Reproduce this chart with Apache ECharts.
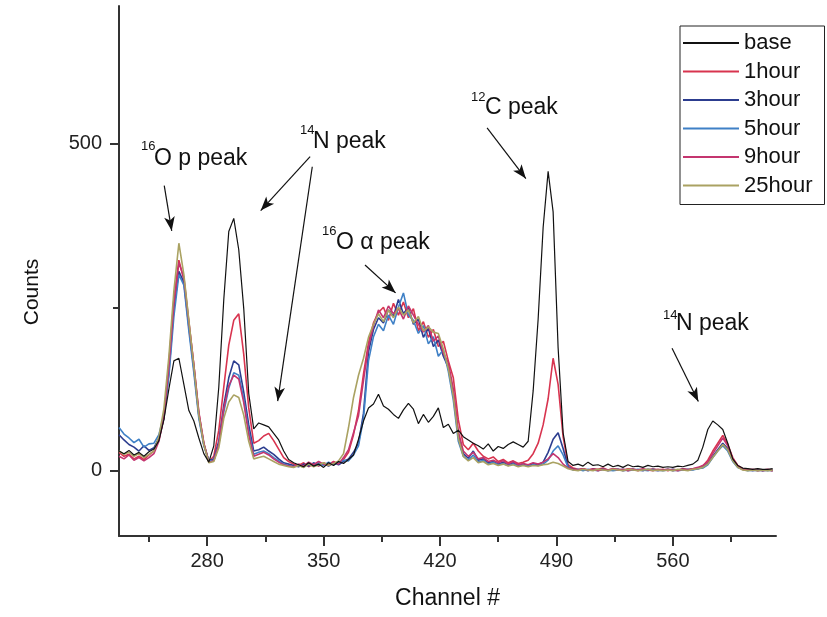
<!DOCTYPE html>
<html>
<head>
<meta charset="utf-8">
<script src="https://cdn.jsdelivr.net/npm/echarts@6/dist/echarts.min.js"></script>
<style>
html,body{margin:0;padding:0;background:#fff;}
#chart{width:827px;height:617px;}
</style>
</head>
<body>
<div id="chart"></div>
<script>
// Channel numbers (x values)
const channels = [
227,230,233,236,239,242,245,248,251,254,
257,260,263,266,269,272,275,278,281,284,
287,290,293,296,299,302,305,308,311,314,
317,320,323,326,329,332,335,338,341,344,
347,350,353,356,359,362,365,368,371,374,
377,380,383,386,389,392,395,398,401,404,
407,410,413,416,419,422,425,428,431,434,
437,440,443,446,449,452,455,458,461,464,
467,470,473,476,479,482,485,488,491,494,
497,500,503,506,509,512,515,518,521,524,
527,530,533,536,539,542,545,548,551,554,
557,560,563,566,569,572,575,578,581,584,
587,590,593,596,599,602,605,608,611,614,
617,620];

const base = [
30,26,31,24,28,22,29,33,46,78,
125,168,172,132,92,76,50,26,13,38,
128,262,366,386,338,248,118,64,73,70,
67,57,47,30,17,12,9,6,12,7,
10,5,12,8,14,11,17,24,48,76,
96,102,117,99,94,86,80,93,103,94,
72,86,74,83,96,66,71,57,62,52,
47,42,38,33,41,30,37,34,40,44,
40,36,45,122,232,372,458,396,188,58,
14,8,10,7,13,8,9,6,10,6,
8,5,9,6,7,5,8,6,7,5,
6,5,7,6,8,10,16,36,63,76,
70,63,42,18,8,4,3,2,3,2,
2,3];

const hour1 = [
28,22,25,18,22,17,24,30,48,82,
165,262,322,292,226,162,88,42,14,22,
62,128,192,230,240,178,96,42,46,53,
57,46,33,20,14,10,8,12,6,10,
7,12,9,14,10,17,28,55,92,148,
196,226,242,250,230,256,238,258,234,248,
214,228,204,216,190,198,168,142,78,40,
32,42,30,22,18,21,14,17,12,15,
11,13,16,26,42,70,110,172,132,52,
9,4,2,3,1,3,2,4,1,3,
2,1,3,2,0,2,1,3,1,2,
0,2,1,3,2,3,4,7,16,30,
42,54,40,20,8,3,2,1,2,0,
1,0];

const hour3 = [
55,47,40,36,30,38,31,35,50,80,
150,248,305,288,220,156,84,40,15,18,
45,100,142,168,162,120,70,30,32,36,
30,25,18,12,10,8,6,10,7,12,
8,11,7,12,9,14,18,28,42,88,
182,216,234,226,246,236,262,240,250,224,
232,204,218,190,200,175,158,118,55,26,
19,30,16,18,12,14,10,13,9,12,
8,10,8,11,9,13,28,48,58,34,
6,2,1,2,0,2,1,2,0,1,
2,0,1,2,1,0,2,1,0,1,
2,0,1,2,1,2,3,5,11,22,
32,42,34,16,6,2,1,0,1,0,
1,0];

const hour5 = [
66,56,50,43,48,36,41,42,55,86,
145,236,300,284,214,150,80,38,15,16,
40,90,126,150,146,110,60,25,28,30,
26,20,15,10,8,6,9,5,11,7,
12,8,13,9,12,16,15,24,38,80,
168,205,224,214,238,224,250,272,238,230,
210,222,194,205,175,185,152,108,45,22,
16,24,13,16,10,13,9,11,8,10,
7,9,7,9,8,10,16,30,38,24,
5,1,2,0,2,1,0,2,1,0,
1,2,0,1,2,1,0,2,1,0,
1,2,0,1,2,1,3,4,9,20,
30,38,30,14,5,2,0,1,0,1,
0,1];

const hour9 = [
22,18,24,16,20,15,20,26,45,82,
160,255,318,296,228,162,90,42,13,15,
40,95,130,146,140,104,55,22,25,28,
24,18,13,9,7,6,10,7,13,9,
14,10,8,13,10,20,32,58,84,138,
190,222,246,234,252,240,248,232,252,238,
224,212,222,198,206,180,165,125,60,30,
22,28,18,20,14,16,12,15,10,14,
9,11,9,12,10,13,18,26,20,10,
4,2,1,3,1,2,0,2,1,3,
1,2,0,2,1,3,1,0,2,1,
2,1,0,2,1,3,5,8,13,26,
38,50,38,18,7,2,1,2,0,1,
2,0];

const hour25 = [
30,25,28,22,26,20,25,30,52,95,
175,275,348,300,230,160,85,40,12,14,
35,80,105,116,112,85,45,18,20,22,
18,14,10,8,6,5,8,5,10,6,
9,12,8,11,15,26,66,112,146,172,
204,224,240,228,246,234,250,238,246,226,
236,214,220,212,210,186,156,114,50,22,
15,20,12,14,9,11,8,10,7,9,
6,8,6,8,7,9,10,13,11,7,
3,1,0,2,1,0,2,1,0,2,
1,0,2,1,0,1,2,0,1,0,
1,0,2,1,0,2,3,5,10,20,
30,40,32,15,5,1,0,1,0,1,
0,1];

const seriesNames = ['base','1hour','3hour','5hour','9hour','25hour'];
const seriesValues = [base, hour1, hour3, hour5, hour9, hour25];
const seriesColors = ['#111111','#d8344f','#2c3d8f','#3f80c6','#c4356f','#aaa262'];

const xLabelTicks = [280,350,420,490,560];
const xMinorTicks = [245,315,385,455,525,595];
const yLabelTicks = [0,500];
const yMinorTicks = [250];

// Annotation arrows: [startChannel, startCounts, endChannel, endCounts]
const arrows = [
  [254.2,436,258.7,367],
  [341.9,480.5,312.2,398],
  [343.2,465,322.4,106.5],
  [374.9,314.6,393.3,272],
  [448.3,524.5,471.6,447],
  [559.5,187.4,575.3,105.7]
];

const FONT = 'Liberation Sans, Arial, Helvetica, sans-serif';
const chart = echarts.init(document.getElementById('chart'), null, {renderer:'canvas'});

const series = seriesNames.map((name, k) => ({
  name: name,
  type: 'line',
  symbol: 'none',
  showSymbol: false,
  xAxisIndex: 0,
  yAxisIndex: 0,
  z: k === 0 ? 4 : 2,
  lineStyle: {color: seriesColors[k], width: k === 0 ? 1.2 : 1.6},
  itemStyle: {color: seriesColors[k]},
  emphasis: {disabled: true},
  data: channels.map((c, i) => [c, seriesValues[k][i]])
}));

series[0].markLine = {
  silent: true,
  symbol: ['none', 'arrow'],
  symbolSize: [8, 14],
  lineStyle: {color: '#111', width: 1.2, type: 'solid'},
  label: {show: false},
  emphasis: {disabled: true},
  data: arrows.map(a => [{coord: [a[0], a[1]]}, {coord: [a[2], a[3]]}])
};

const axisColor = '#333';

function annot(sup, main, sx, sy, mx, my) {
  return [
    {type:'text', x: sx, y: sy, silent:true, style:{text: sup, fontSize: 13, fontFamily: FONT, fill:'#111', align:'left', verticalAlign:'middle'}},
    {type:'text', x: mx, y: my, silent:true, style:{text: main, fontSize: 23, fontFamily: FONT, fill:'#111', align:'left', verticalAlign:'middle'}}
  ];
}

const graphics = [].concat(
  annot('16', 'O p peak', 141, 146, 154, 159),
  annot('14', 'N peak', 300, 130, 313, 142),
  annot('16', 'O \u03b1 peak', 322, 231, 336, 243),
  annot('12', 'C peak', 471, 97, 485, 108),
  annot('14', 'N peak', 663, 315, 676, 324),
  [{type:'text', x: 32, y: 292, rotation: Math.PI/2, silent:true,
    style:{text:'Counts', fontSize: 21, fontFamily: FONT, fill:'#111', align:'center', verticalAlign:'middle'}}]
);

chart.setOption({
  animation: false,
  backgroundColor: '#fff',
  textStyle: {fontFamily: FONT},
  grid: {left: 119, right: 51, top: 6, bottom: 81, containLabel: false},
  legend: {
    data: seriesNames,
    orient: 'vertical',
    left: 680, top: 26,
    icon: 'rect',
    itemWidth: 56, itemHeight: 2, itemGap: 6.5,
    padding: [6, 12, 8, 3],
    borderColor: '#222', borderWidth: 1,
    selectedMode: false,
    textStyle: {fontSize: 22, fontFamily: FONT, color: '#111', lineHeight: 22}
  },
  xAxis: [{
    type: 'value', min: 227, max: 622,
    name: 'Channel #', nameLocation: 'middle', nameGap: 51,
    nameTextStyle: {fontSize: 23, fontFamily: FONT, color: '#111'},
    axisLine: {show: true, onZero: false, lineStyle: {color: axisColor, width: 2}},
    axisTick: {show: true, length: 10, customValues: xLabelTicks, lineStyle: {color: axisColor, width: 2}},
    axisLabel: {customValues: xLabelTicks, fontSize: 20, margin: 15, color: '#222', fontFamily: FONT},
    splitLine: {show: false}
  }, {
    type: 'value', min: 227, max: 622, position: 'bottom',
    axisLine: {show: false, onZero: false},
    axisTick: {show: true, length: 6, customValues: xMinorTicks, lineStyle: {color: axisColor, width: 2}},
    axisLabel: {show: false},
    splitLine: {show: false}
  }],
  yAxis: [{
    type: 'value', min: -100, max: 711, position: 'left',
    axisLine: {show: true, onZero: false, lineStyle: {color: axisColor, width: 2}},
    axisTick: {show: true, length: 9, customValues: yLabelTicks, lineStyle: {color: axisColor, width: 2}},
    axisLabel: {customValues: yLabelTicks, fontSize: 20, margin: 17, color: '#222', fontFamily: FONT},
    splitLine: {show: false}
  }, {
    type: 'value', min: -100, max: 711, position: 'left', offset: 0,
    axisLine: {show: false, onZero: false},
    axisTick: {show: true, length: 6, customValues: yMinorTicks, lineStyle: {color: axisColor, width: 2}},
    axisLabel: {show: false},
    splitLine: {show: false}
  }],
  series: series,
  graphic: graphics
});
</script>
</body>
</html>
